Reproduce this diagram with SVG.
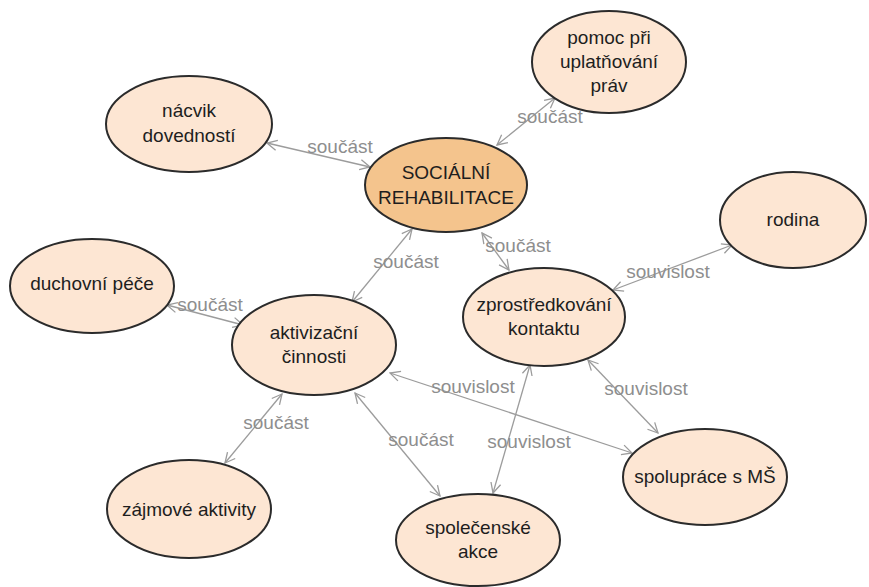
<svg xmlns="http://www.w3.org/2000/svg" width="869" height="587" viewBox="0 0 869 587">
  <style>
    .node ellipse { fill: #fde6d3; stroke: #2b2b2b; stroke-width: 2; }
    .node.main ellipse { fill: #f4c48d; }
    .node text { font-family: "Liberation Sans", Arial, sans-serif; font-size: 19px; fill: #1e1e1e; text-anchor: middle; }
    .edges line { stroke: #9c9c9c; stroke-width: 1.3; marker-start: url(#arr); marker-end: url(#arr); }
    .edges text { font-family: "Liberation Sans", Arial, sans-serif; font-size: 19px; fill: #8e8e8e; text-anchor: middle; }
  </style>
  <defs>
    <marker id="arr" viewBox="0 0 12 12" refX="11" refY="6" markerWidth="12" markerHeight="12" markerUnits="userSpaceOnUse" orient="auto-start-reverse">
      <path d="M1,1 L11,6 L1,11" fill="none" stroke="#9c9c9c" stroke-width="1.3"/>
    </marker>
  </defs>

  <!-- connectors -->
  <g id="edges" class="edges">
    <line x1="267" y1="143" x2="370" y2="167"/>
    <text x="340" y="153">součást</text>

    <line x1="497" y1="145" x2="555" y2="98"/>
    <text x="550" y="123">součást</text>

    <line x1="482" y1="233" x2="509" y2="270"/>
    <text x="518" y="252">součást</text>

    <line x1="613" y1="290" x2="732" y2="245"/>
    <text x="668" y="278">souvislost</text>

    <line x1="412" y1="229" x2="352" y2="302"/>
    <text x="406" y="268">součást</text>

    <line x1="167" y1="305" x2="243" y2="325"/>
    <text x="210" y="311">součást</text>

    <line x1="282" y1="394" x2="225" y2="463"/>
    <text x="276" y="429">součást</text>

    <line x1="355" y1="393" x2="440" y2="496"/>
    <text x="421" y="446">součást</text>

    <line x1="390" y1="373" x2="632" y2="453"/>
    <text x="473" y="393">souvislost</text>

    <line x1="530" y1="365" x2="493" y2="493"/>
    <text x="529" y="448">souvislost</text>

    <line x1="588" y1="360" x2="658" y2="433"/>
    <text x="646" y="395">souvislost</text>
  </g>

  <!-- nodes -->
  <g id="socialni-rehabilitace" class="node main">
    <ellipse cx="446" cy="185" rx="81" ry="47"/>
    <text x="446" y="179">SOCIÁLNÍ</text>
    <text x="446" y="204">REHABILITACE</text>
  </g>
  <g id="pomoc-pri-uplatnovani-prav" class="node">
    <ellipse cx="609" cy="62" rx="77" ry="51"/>
    <text x="609" y="44">pomoc při</text>
    <text x="609" y="68">uplatňování</text>
    <text x="609" y="92">práv</text>
  </g>
  <g id="nacvik-dovednosti" class="node">
    <ellipse cx="189" cy="124" rx="83" ry="48"/>
    <text x="189" y="117">nácvik</text>
    <text x="189" y="142">dovedností</text>
  </g>
  <g id="rodina" class="node">
    <ellipse cx="793" cy="220" rx="73" ry="48"/>
    <text x="793" y="226">rodina</text>
  </g>
  <g id="duchovni-pece" class="node">
    <ellipse cx="92" cy="286" rx="82" ry="47"/>
    <text x="92" y="290">duchovní péče</text>
  </g>
  <g id="aktivizacni-cinnosti" class="node">
    <ellipse cx="314" cy="345" rx="82" ry="50"/>
    <text x="314" y="339">aktivizační</text>
    <text x="314" y="363">činnosti</text>
  </g>
  <g id="zprostredkovani-kontaktu" class="node">
    <ellipse cx="544" cy="317" rx="81" ry="49"/>
    <text x="544" y="311">zprostředkování</text>
    <text x="544" y="335">kontaktu</text>
  </g>
  <g id="spoluprace-s-ms" class="node">
    <ellipse cx="705" cy="477" rx="82" ry="48"/>
    <text x="705" y="483">spolupráce s MŠ</text>
  </g>
  <g id="zajmove-aktivity" class="node">
    <ellipse cx="189" cy="509" rx="82" ry="49"/>
    <text x="189" y="516">zájmové aktivity</text>
  </g>
  <g id="spolecenske-akce" class="node">
    <ellipse cx="478" cy="540" rx="82" ry="46"/>
    <text x="478" y="534">společenské</text>
    <text x="478" y="558">akce</text>
  </g>
</svg>
